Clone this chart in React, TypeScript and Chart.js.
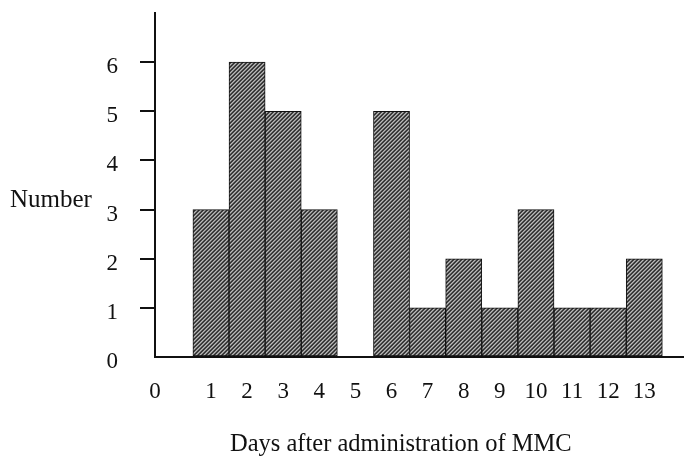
import React, { useEffect, useRef } from "react";
import { Chart, registerables } from "chart.js";

Chart.register(...registerables);

const days = [1, 2, 3, 4, 5, 6, 7, 8, 9, 10, 11, 12, 13];
const counts = [3, 6, 5, 3, 0, 5, 1, 2, 1, 3, 1, 1, 2];
const xTickLabels = ["0", "1", "2", "3", "4", "5", "6", "7", "8", "9", "10", "11", "12", "13"];
const yTickValues = [0, 1, 2, 3, 4, 5, 6];
const xTitle = "Days after administration of MMC";
const yTitle = "Number";

const FONT = '"Liberation Serif", "DejaVu Serif", serif';
const X_MIN = -0.55;
const X_MAX = 14.1;

function makePattern(): CanvasPattern | string {
  const c = document.createElement("canvas");
  c.width = 4;
  c.height = 4;
  const g = c.getContext("2d");
  if (!g) return "#666";
  const img = g.createImageData(4, 4);
  for (let y = 0; y < 4; y++) {
    for (let x = 0; x < 4; x++) {
      const k = (x + y) % 4;
      const v = k === 0 ? 45 : k === 1 ? 80 : k === 2 ? 185 : 130;
      const i = (y * 4 + x) * 4;
      img.data[i] = v;
      img.data[i + 1] = v;
      img.data[i + 2] = v;
      img.data[i + 3] = 255;
    }
  }
  g.putImageData(img, 0, 0);
  return g.createPattern(c, "repeat") || "#666";
}

const titlesPlugin = {
  id: "titles",
  afterDraw(chart: any) {
    const ctx = chart.ctx;
    ctx.save();
    ctx.fillStyle = "#111";
    ctx.textBaseline = "alphabetic";
    ctx.font = `25px ${FONT}`;
    ctx.textAlign = "left";
    ctx.fillText(yTitle, 10, 207);
    ctx.font = `24.5px ${FONT}`;
    ctx.textAlign = "left";
    ctx.fillText(xTitle, 230, 451);
    ctx.restore();
  },
};

export default function App() {
  const ref = useRef<HTMLCanvasElement | null>(null);
  useEffect(() => {
    if (!ref.current) return;
    const pattern = makePattern();
    const chart = new Chart(ref.current, {
      type: "bar",
      data: {
        datasets: [
          {
            data: days.map((d, i) => ({ x: d, y: counts[i] })),
            backgroundColor: pattern as any,
            borderColor: "#111",
            borderWidth: 1,
            borderSkipped: false,
            barPercentage: 1,
            categoryPercentage: 1,
          },
        ],
      },
      options: {
        animation: false,
        responsive: false,
        layout: { padding: { top: 13, left: 0, right: 0, bottom: 0 } },
        plugins: { legend: { display: false }, tooltip: { enabled: false } },
        scales: {
          x: {
            type: "linear",
            offset: false,
            min: X_MIN,
            max: X_MAX,
            afterBuildTicks: (scale: any) => {
              scale.ticks = [X_MIN, ...days].map((v) => ({ value: v }));
            },
            afterFit: (scale: any) => {
              scale.height = 99;
              scale.paddingLeft = 0;
              scale.paddingRight = 0;
            },
            grid: { drawOnChartArea: false, drawTicks: false },
            border: { display: true, color: "#111", width: 2 },
            ticks: {
              autoSkip: false,
              maxRotation: 0,
              padding: 21,
              color: "#111",
              font: { family: FONT, size: 23 },
              callback: (_v: any, index: number) => xTickLabels[index],
            },
          },
          y: {
            type: "linear",
            min: 0,
            max: 7,
            afterBuildTicks: (scale: any) => {
              scale.ticks = yTickValues.map((v) => ({ value: v }));
            },
            afterFit: (scale: any) => {
              scale.width = 155;
              scale.paddingTop = 0;
              scale.paddingBottom = 0;
            },
            grid: {
              drawOnChartArea: false,
              drawTicks: true,
              tickLength: 15,
              lineWidth: 2,
              color: (c: any) => (c.tick && c.tick.value === 0 ? "rgba(0,0,0,0)" : "#111"),
            },
            border: { display: true, color: "#111", width: 2 },
            ticks: {
              padding: 22,
              labelOffset: 5,
              color: "#111",
              font: { family: FONT, size: 23 },
              callback: (v: any) => String(v),
            },
          },
        },
      },
      plugins: [titlesPlugin],
    } as any);
    return () => chart.destroy();
  }, []);
  return (
    <div style={{ position: "absolute", left: 0, top: 0, width: 684, height: 456, background: "#fff" }}>
      <canvas ref={ref} width={684} height={456} style={{ display: "block" }} />
    </div>
  );
}
